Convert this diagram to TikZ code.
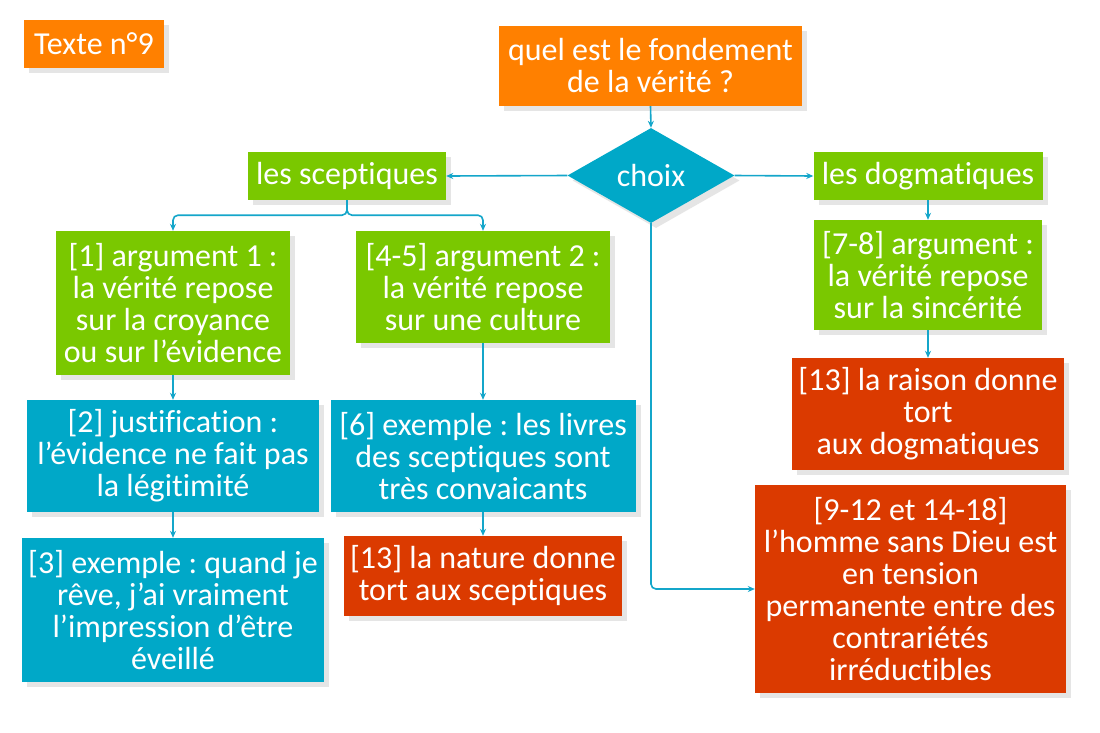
\documentclass[tikz,border=0pt]{standalone}
\usepackage{fontspec}
\setmainfont[Ligatures={NoCommon}]{Carlito}
\frenchspacing
\usetikzlibrary{shapes.geometric,arrows.meta,shadows}
\definecolor{corange}{RGB}{255,128,0}
\definecolor{cgreen}{RGB}{122,200,0}
\definecolor{cblue}{RGB}{0,168,200}
\definecolor{cred}{RGB}{219,58,0}
\definecolor{cline}{RGB}{20,166,202}
\begin{document}
\begin{tikzpicture}[x=1pt,y=-1pt,
  box/.style={rectangle, inner sep=0pt, text=white, align=center,
    font=\fontsize{32}{32}\selectfont,
    drop shadow={shadow xshift=5pt, shadow yshift=-5pt, fill=black!20}},
  sz/.style 2 args={minimum width=#1pt, minimum height=#2pt},
  obox/.style={box, fill=corange},
  gbox/.style={box, fill=cgreen},
  bbox/.style={box, fill=cblue},
  rbox/.style={box, fill=cred},
  conn/.style={draw=cline, line width=1.6pt, rounded corners=5pt,
    -{Stealth[length=7pt,width=6pt]}}]
\useasboundingbox (0,0) rectangle (1100,732);
\fill[white] (0,0) rectangle (1100,732);

\node[obox, sz={140}{48}] (texte) at (94,44) {Texte n°9};
\node[obox, sz={303}{80}] (q) at (650.5,66) {quel est le fondement\\de la vérité ?};
\node[bbox, diamond, sz={167}{95}] (choix) at (651,175.5) {choix};
\node[gbox, sz={198}{48}] (scep) at (347,176) {les sceptiques};
\node[gbox, sz={229}{48}] (dog) at (928,176) {les dogmatiques};
\node[gbox, sz={234}{144}] (arg1) at (173,303) {[1] argument 1 :\\la vérité repose\\sur la croyance\\ou sur l’évidence};
\node[gbox, sz={254}{112}] (arg2) at (483,287) {[4-5] argument 2 :\\la vérité repose\\sur une culture};
\node[gbox, sz={228}{110}] (argdog) at (928,275) {[7-8] argument :\\la vérité repose\\sur la sincérité};
\node[rbox, sz={272}{112}] (raison) at (928,414) {[13] la raison donne\\tort\\aux dogmatiques};
\node[rbox, sz={311}{208}] (homme) at (910.5,589) {[9-12 et 14-18]\\l’homme sans Dieu est\\en tension\\permanente entre des\\contrariétés\\irréductibles};
\node[bbox, sz={292}{112}] (justif) at (173,456) {[2] justification :\\l’évidence ne fait pas\\la légitimité};
\node[bbox, sz={305}{112}] (ex6) at (483,456) {[6] exemple : les livres\\des sceptiques sont\\très convaicants};
\node[bbox, sz={302}{144}] (ex3) at (173,610) {[3] exemple : quand je\\rêve, j’ai vraiment\\l’impression d’être\\éveillé};
\node[rbox, sz={278}{80}] (nature) at (483,576) {[13] la nature donne\\tort aux sceptiques};

\draw[conn] (q.south) -- (choix.north);
\draw[conn] (choix.west) -- (scep.east);
\draw[conn] (choix.east) -- (dog.west);
\draw[conn] (scep.south) -- ++(0,15) -| (arg1.north);
\draw[conn] (scep.south) -- ++(0,15) -| (arg2.north);
\draw[conn] (dog.south) -- (argdog.north);
\draw[conn] (argdog.south) -- (raison.north);
\draw[conn] (choix.south) |- (homme.west);
\draw[conn] (arg1.south) -- (justif.north);
\draw[conn] (justif.south) -- (ex3.north);
\draw[conn] (arg2.south) -- (ex6.north);
\draw[conn] (ex6.south) -- (nature.north);
\end{tikzpicture}
\end{document}
